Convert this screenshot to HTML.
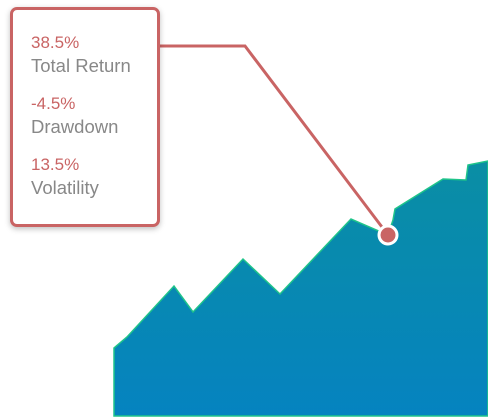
<!DOCTYPE html>
<html><head><meta charset="utf-8"><style>
html,body{margin:0;padding:0;background:#fff;}
body{width:488px;height:417px;position:relative;overflow:hidden;font-family:"Liberation Sans",sans-serif;}
svg{position:absolute;left:0;top:0;}
.box{position:absolute;left:10px;top:7px;width:144px;height:214px;border:3px solid #c96464;border-radius:7px;background:#fff;box-shadow:0 2px 6px rgba(0,0,0,0.25);}
.v{position:absolute;left:18px;color:#c96464;font-size:17px;}
.l{position:absolute;left:18px;color:#888;font-size:18.5px;}
</style></head><body>
<svg width="488" height="417">
<defs><linearGradient id="g" x1="0" y1="0" x2="0" y2="1"><stop offset="0" stop-color="#0a8ea4"/><stop offset="1" stop-color="#0583c0"/></linearGradient></defs>
<g id="chart"></g>
</svg>
<div class="box">
<div class="v" style="top:23px">38.5%</div>
<div class="l" style="top:45px">Total Return</div>
<div class="v" style="top:84px">-4.5%</div>
<div class="l" style="top:106px">Drawdown</div>
<div class="v" style="top:145px">13.5%</div>
<div class="l" style="top:167px">Volatility</div>
</div>
<script>
const xs=[0,13,60,79,129,166,237,274,279,281,329,352,354,374];
const vals=[68,79,130,104,157,122,197,181,196,207,237,236,251,255];
const hiIndex=7;
const X0=114,X1=488,Y0=416;
function sx(v){return X0+(v-xs[0])/(xs[xs.length-1]-xs[0])*(X1-X0);}
function sy(v){return Y0-v;}
const ns="http://www.w3.org/2000/svg",g=document.getElementById('chart');
let d="M"+sx(xs[0])+","+Y0;
xs.forEach((x,i)=>{d+=" L"+sx(x)+","+sy(vals[i]);});
d+=" L"+sx(xs[xs.length-1])+","+Y0+" Z";
const area=document.createElementNS(ns,'path');
area.setAttribute('d',d);area.setAttribute('fill','url(#g)');area.setAttribute('stroke','#1fc48a');area.setAttribute('stroke-width','1.5');


g.appendChild(area);
const px=sx(xs[hiIndex]),py=sy(vals[hiIndex]);
const ln=document.createElementNS(ns,'polyline');
ln.setAttribute('points',"159,46 245,46 "+px+","+py);
ln.setAttribute('fill','none');ln.setAttribute('stroke','#c96464');ln.setAttribute('stroke-width','3');


g.appendChild(ln);
const c=document.createElementNS(ns,'circle');
c.setAttribute('cx',px);c.setAttribute('cy',py);c.setAttribute('r','9');c.setAttribute('fill','#c96464');c.setAttribute('stroke','#fff');c.setAttribute('stroke-width','3');


g.appendChild(c);
</script>
</body></html>
